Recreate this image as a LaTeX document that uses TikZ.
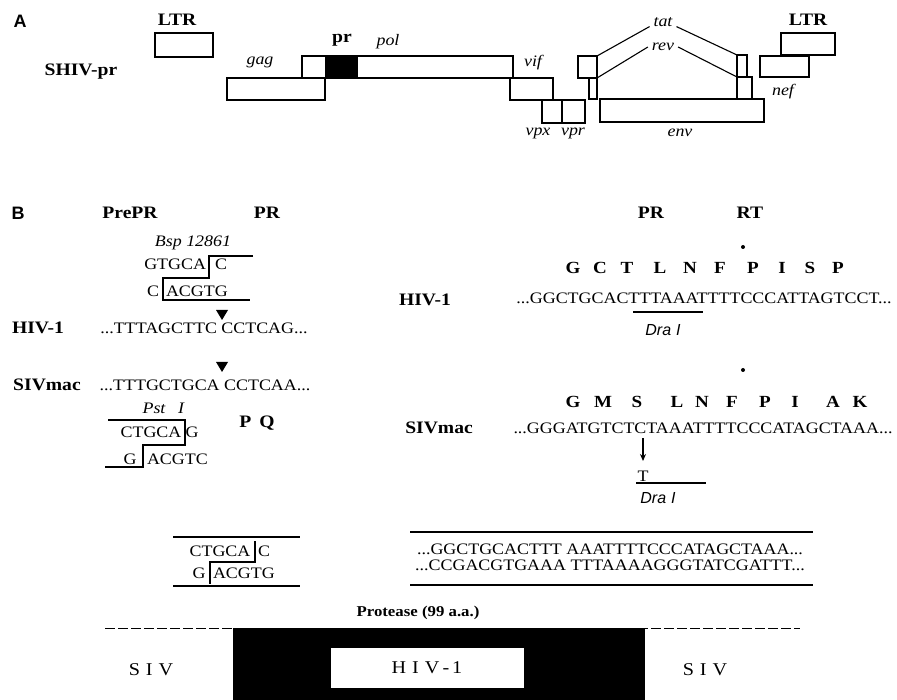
\documentclass[tikz,border=0pt]{standalone}
\usepackage{fontspec}
\setmainfont{Liberation Serif}[FakeStretch=1.12]
\setsansfont{Liberation Sans}
\usetikzlibrary{arrows.meta}
\tikzset{
  every node/.style={inner sep=0pt, outer sep=0pt},
  lab/.style={font=\fontsize{17.5}{18}\selectfont\bfseries},
  seq/.style={font=\fontsize{16}{17}\selectfont},
  gene/.style={font=\fontsize{16}{17}\selectfont\itshape},
  aa/.style={font=\fontsize{17}{18}\selectfont\bfseries},
  panel/.style={font=\fontsize{18}{18}\selectfont\sffamily\bfseries},
  dra/.style={font=\fontsize{16}{17}\selectfont\sffamily\itshape},
  genebox/.style={draw, line width=1.5pt},
  cutline/.style={line width=1.1pt},
  rule/.style={line width=1.3pt},
}
\begin{document}
\begin{tikzpicture}[x=1pt,y=-1pt]
\useasboundingbox (0,0) rectangle (897,700);
% ---------------- Panel A ----------------
\node[panel] (pA) at (20,21) {A};
\node[lab] (ltrA) at (177,20) {LTR};
\draw[genebox] (155,33) rectangle (213,57);
\node[lab] (shiv) at (81,72) {SHIV-pr};
% gag / pol
\draw[genebox] (227,78) rectangle (325,100);
\node[gene] (gag) at (260,62) {gag};
\draw[genebox] (302,56) rectangle (513,78);
\fill (325,56) rectangle (358,78);
\node[lab] (pr) at (342,40) {pr};
\node[gene] (pol) at (388,42) {pol};
% vif vpx vpr
\draw[genebox] (510,78) rectangle (553,100);
\node[gene] (vif) at (533,63) {vif};
\draw[genebox] (542,100) rectangle (562,123);
\draw[genebox] (562,100) rectangle (585,123);
\node[gene] (vpx) at (538,133) {vpx};
\node[gene] (vpr) at (573,133) {vpr};
% tat / rev
\draw[genebox] (578,56) rectangle (597,78);
\draw[genebox] (589,78) rectangle (597,99);
\draw[genebox] (737,55) rectangle (747,77);
\draw[genebox] (737,77) rectangle (752,99);
\node[gene] (tat) at (663,22) {tat};
\node[gene] (rev) at (663,47) {rev};
\coordinate (t1) at (597,56);
\coordinate (t2) at (737,55);
\coordinate (r1) at (597,78);
\coordinate (r2) at (737,77);
\draw[cutline] (t1) -- ([xshift=-4pt]tat.south west);
\draw[cutline] ([xshift=4pt]tat.south east) -- (t2);
\draw[cutline] (r1) -- ([xshift=-4pt]rev.west);
\draw[cutline] ([xshift=4pt]rev.east) -- (r2);
% env
\draw[genebox] (600,99) rectangle (764,122);
\node[gene] (env) at (680,133) {env};
% nef / LTR
\node[lab] (ltrB) at (808,20) {LTR};
\draw[genebox] (781,33) rectangle (835,55);
\draw[genebox] (760,56) rectangle (809,77);
\node[gene] (nef) at (783,92) {nef};
% ---------------- Panel B left ----------------
\node[panel] (pB) at (18,213) {B};
\node[lab] (prepr) at (130,213) {PrePR};
\node[lab] (prL) at (267,213) {PR};
\node[gene] (bsp) at (193,243) {Bsp 12861};
\node[seq, anchor=east] (bs1) at (206,264) {GTGCA};
\node[seq] (bs2) at (221,264) {C};
\node[seq] (bs3) at (153,291) {C};
\node[seq, anchor=west] (bs4) at (166,291) {ACGTG};
\draw[cutline] (253,256) -- (209,256) -- (209,278) -- (163,278) -- (163,300) -- (250,300);
\fill (216,310) -- (228,310) -- (222,320) -- cycle;
\node[lab] (hivL) at (38,328) {HIV-1};
\node[seq] (hivseqL) at (204,328) {...TTTAGCTTC CCTCAG...};
\fill (216,362) -- (228,362) -- (222,372) -- cycle;
\node[lab] (sivL) at (47,385) {SIVmac};
\node[seq] (sivseqL) at (205,385) {...TTTGCTGCA CCTCAA...};
\node[gene] (pst) at (154,408) {Pst};
\node[gene] (pstI) at (181,408) {I};
\draw[cutline] (108,420) -- (185,420) -- (185,445) -- (143,445) -- (143,467) -- (105,467);
\node[seq] (ps1) at (151,432) {CTGCA};
\node[seq] (ps2) at (192,432) {G};
\node[seq] (ps3) at (130,459) {G};
\node[seq, anchor=west] (ps4) at (147,459) {ACGTC};
\node[lab] (pq) at (257,423) {P\hspace{8pt}Q};
% ligated
\draw[rule] (173,537) -- (300,537);
\node[seq] (lg1) at (220,551) {CTGCA};
\node[seq] (lg2) at (264,551) {C};
\draw[cutline] (255,541) -- (255,562) -- (210,562) -- (210,584);
\node[seq] (lg3) at (199,573) {G};
\node[seq, anchor=west] (lg4) at (213,573) {ACGTG};
\draw[rule] (173,586) -- (300,586);
% ---------------- Panel B right ----------------
\node[lab] (prR) at (651,213) {PR};
\node[lab] (rtR) at (750,213) {RT};
\fill (743,247) circle (2pt);
\foreach \x/\l [count=\i] in {573/G,600/C,627/T,660/L,690/N,720/F,753/P,782/I,810/S,838/P}
  {\node[aa] (ha\i) at (\x,268) {\l};}
\node[lab] (hivR) at (425,300) {HIV-1};
\node[seq] (hivseqR) at (704,298) {...GGCTGCACTTTAAATTTTCCCATTAGTCCT...};
\draw[rule] (633,312) -- (703,312);
\node[dra] (dra1) at (663,330) {Dra\hspace{5pt}I};
\fill (743,370) circle (2pt);
\foreach \x/\l [count=\i] in {573/G,603/M,637/S,677/L,702/N,732/F,765/P,795/I,833/A,860/K}
  {\node[aa] (sa\i) at (\x,402) {\l};}
\node[lab] (sivR) at (439,428) {SIVmac};
\node[seq] (sivseqR) at (703,428) {...GGGATGTCTCTAAATTTTCCCATAGCTAAA...};
\node[seq] (tmut) at (643,476) {T};
\coordinate (arrtop) at (643,438);
\coordinate (arrend) at (643,461);
\draw[line width=1.2pt, -{Stealth[length=7pt,width=6pt]}] (arrtop) -- (arrend);
\draw[rule] (636,483) -- (706,483);
\node[dra] (dra2) at (658,498) {Dra\hspace{5pt}I};
% hybrid
\draw[rule] (410,532) -- (813,532);
\node[seq] (hy1) at (610,549) {...GGCTGCACTTT AAATTTTCCCATAGCTAAA...};
\node[seq] (hy2) at (610,565) {...CCGACGTGAAA TTTAAAAGGGTATCGATTT...};
\draw[rule] (410,585) -- (813,585);
% ---------------- bottom ----------------
\node[lab, font=\fontsize{15}{16}\selectfont\bfseries] (prot) at (418,613) {Protease (99 a.a.)};
\draw[line width=0.8pt, dash pattern=on 10pt off 3pt] (105,628) -- (800,628);
\fill (233,628) rectangle (645,700);
\fill[white] (331,648) rectangle (524,688);
\node[seq, font=\fontsize{18}{18}\selectfont] (hivbox) at (427,668) {H\,\,I\,\,V\,-\,1};
\node[seq, font=\fontsize{18}{18}\selectfont] (sivA) at (151,670) {S\,\,I\,\,V};
\node[seq, font=\fontsize{18}{18}\selectfont] (sivB) at (705,670) {S\,\,I\,\,V};
\end{tikzpicture}
\end{document}
